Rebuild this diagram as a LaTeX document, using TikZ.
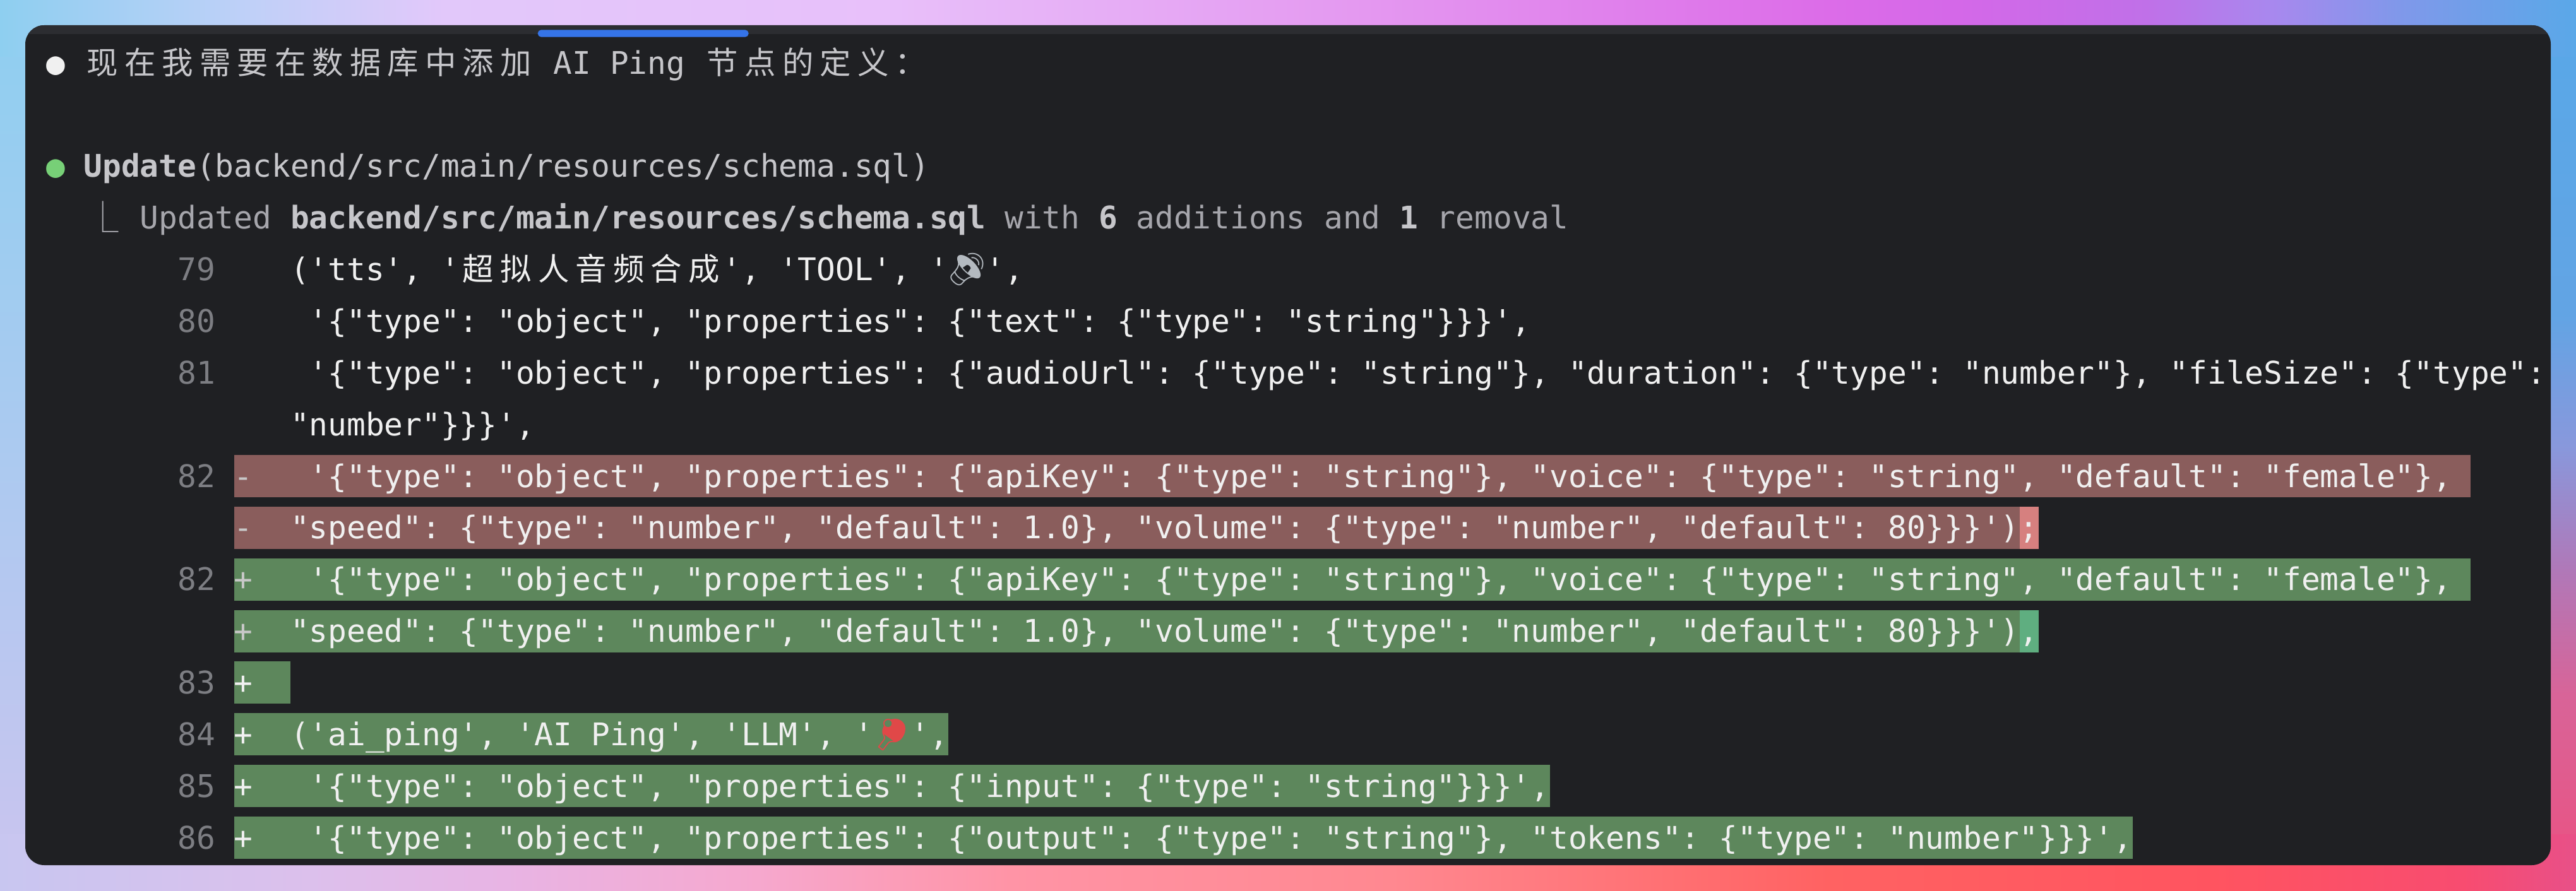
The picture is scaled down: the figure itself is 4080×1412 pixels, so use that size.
\documentclass[tikz,border=0pt]{standalone}
\usepackage{fontspec}
\setmonofont{DejaVu Sans Mono}
\newfontfamily\cjkf{Noto Sans CJK SC}
\newfontfamily\emof{Noto Emoji}
\definecolor{winbg}{HTML}{1F2023}
\definecolor{titlebg}{HTML}{2C2D31}
\definecolor{scrollblue}{HTML}{3574E8}
\definecolor{codew}{HTML}{F0F0F0}
\definecolor{hdrtext}{HTML}{C6C6CA}
\definecolor{dimtext}{HTML}{A6A6AC}
\definecolor{lngray}{HTML}{7D7E83}
\definecolor{dotgreen}{HTML}{77D077}
\definecolor{redrow}{HTML}{8A5D5C}
\definecolor{greenrow}{HTML}{5D875C}
\definecolor{redhi}{HTML}{D6807F}
\definecolor{greenhi}{HTML}{5FAE80}
\definecolor{markgray}{HTML}{C8C8C8}
\definecolor{emogray}{HTML}{B4BAC0}
\definecolor{emored}{HTML}{E04848}
% background colours
\definecolor{tA}{HTML}{8ECFF0}\definecolor{tB}{HTML}{C0D0F8}\definecolor{tC}{HTML}{E2C8FA}
\definecolor{tD}{HTML}{E8C0FA}\definecolor{tE}{HTML}{E498F0}\definecolor{tF}{HTML}{DC6CE8}
\definecolor{tG}{HTML}{D468E8}\definecolor{tH}{HTML}{C070E8}\definecolor{tI}{HTML}{A888EE}
\definecolor{tJ}{HTML}{8098EA}\definecolor{tK}{HTML}{5AA8E8}
\definecolor{bA}{HTML}{C8C6F0}\definecolor{bB}{HTML}{DCC0EC}\definecolor{bC}{HTML}{E8B4E4}
\definecolor{bD}{HTML}{F6A8CE}\definecolor{bE}{HTML}{FF94A6}\definecolor{bF}{HTML}{FF8890}
\definecolor{bG}{HTML}{FF6262}\definecolor{bH}{HTML}{FF5460}\definecolor{bI}{HTML}{F84C70}
\definecolor{bJ}{HTML}{E85088}
\definecolor{rA}{HTML}{58A8E8}\definecolor{rB}{HTML}{62A4E4}\definecolor{rC}{HTML}{8898DC}
\definecolor{rD}{HTML}{B078B8}\definecolor{rE}{HTML}{D86498}\definecolor{rF}{HTML}{EC5080}
\definecolor{lA}{HTML}{8ECFF0}\definecolor{lB}{HTML}{ABCAF0}\definecolor{lC}{HTML}{CBC4EF}
% stops mapped into the central 25bp--75bp band that \shade stretches over the path
\pgfdeclarehorizontalshading{topbg}{100bp}{color(0bp)=(tA); color(25bp)=(tA); color(29.9bp)=(tB);
  color(33.6bp)=(tC); color(42.15bp)=(tD); color(51.5bp)=(tE); color(60.5bp)=(tF); color(63bp)=(tG);
  color(66.65bp)=(tH); color(69.1bp)=(tI); color(71.55bp)=(tJ); color(75bp)=(tK); color(100bp)=(tK)}
\pgfdeclarehorizontalshading{botbg}{100bp}{color(0bp)=(bA); color(25bp)=(bA); color(31bp)=(bB);
  color(34.8bp)=(bC); color(39.7bp)=(bD); color(44.6bp)=(bE); color(52bp)=(bF); color(60.5bp)=(bG);
  color(67.9bp)=(bH); color(72.8bp)=(bI); color(75bp)=(bJ); color(100bp)=(bJ)}
\pgfdeclareverticalshading{rightbg}{100bp}{color(0bp)=(rF); color(25bp)=(rF); color(36bp)=(rE);
  color(43bp)=(rD); color(50bp)=(rC); color(57.3bp)=(rB); color(75bp)=(rA); color(100bp)=(rA)}
\pgfdeclareverticalshading{leftbg}{100bp}{color(0bp)=(lC); color(25bp)=(lC); color(50bp)=(lB);
  color(75bp)=(lA); color(100bp)=(lA)}
\newcommand\codefont{\ttfamily\fontsize{12.362pt}{14pt}\selectfont}
\newcommand\cjw[1]{\makebox[14.885pt][c]{\cjkf #1}}
\def\cjloop#1{\ifx\relax#1\else\cjw{#1}\expandafter\cjloop\fi}
\newcommand\CJ[1]{\cjloop#1\relax}
\newcommand\emo[2][emogray]{\makebox[14.885pt][c]{\emof\textcolor{#1}{#2}}}
\newcommand\X[1]{73+29.77*(#1)}
\newcommand\B[1]{772+81.86*((#1)-8)}
\newcommand\T[1]{721+81.86*((#1)-8)}
\tikzset{
  code/.style={anchor=base west, inner sep=0pt, outer sep=0pt, text=codew, font=\codefont},
  hdr/.style={code, text=hdrtext},
  dimt/.style={code, text=dimtext},
  lnum/.style={code, text=lngray},
  diffmark/.style={code, text=markgray},
  rowdel/.style={fill=redrow},
  rowadd/.style={fill=greenrow},
}
\begin{document}
\begin{tikzpicture}[x=0.25pt,y=-0.25pt]
\useasboundingbox (0,0) rectangle (4080,1412);
% background
\shade[shading=leftbg] (0,0) rectangle (120,1412);
\shade[shading=rightbg] (3960,0) rectangle (4080,1412);
\shade[shading=topbg] (0,0) rectangle (4080,90);
\shade[shading=botbg] (0,1322) rectangle (4080,1412);
% window
\fill[winbg, rounded corners=7.5pt] (40,40) rectangle (4040,1371);
\begin{scope}
  \clip[rounded corners=7.5pt] (40,40) rectangle (4040,1371);
  \fill[titlebg] (40,40) rectangle (4040,54);
\end{scope}
\fill[scrollblue, rounded corners=1.4pt] (851.7,47.3) rectangle (1185.7,58.7);
% diff rows
\fill[rowdel] ({\X{10}},{\T{8}}) rectangle ({\X{129}},{\T{8}+67});
\fill[rowdel] ({\X{10}},{\T{9}}) rectangle ({\X{106}},{\T{9}+67});
\fill[redhi] ({\X{105}},{\T{9}}) rectangle ({\X{106}},{\T{9}+67});
\fill[rowadd] ({\X{10}},{\T{10}}) rectangle ({\X{129}},{\T{10}+67});
\fill[rowadd] ({\X{10}},{\T{11}}) rectangle ({\X{106}},{\T{11}+67});
\fill[greenhi] ({\X{105}},{\T{11}}) rectangle ({\X{106}},{\T{11}+67});
\fill[rowadd] ({\X{10}},{\T{12}}) rectangle ({\X{13}},{\T{12}+67});
\fill[rowadd] ({\X{10}},{\T{13}}) rectangle ({\X{48}},{\T{13}+67});
\fill[rowadd] ({\X{10}},{\T{14}}) rectangle ({\X{80}},{\T{14}+67});
\fill[rowadd] ({\X{10}},{\T{15}}) rectangle ({\X{111}},{\T{15}+67});
% header lines
\node[hdr] (l1) at ({\X{0}},{\B{0}}) {\textcolor{codew}{●} \CJ{现在我需要在数据库中添加} AI Ping \CJ{节点的定义：}};
\node[hdr] (upd) at ({\X{0}},{\B{2}}) {\textcolor{dotgreen}{●} \textbf{Update}(backend/src/main/resources/schema.sql)};
\node[dimt] (corner) at ({\X{2.2}},{\B{3}}) {\cjkf ⎿};
\node[dimt] (upd2) at ({\X{5}},{\B{3}}) {Updated \textcolor{hdrtext}{\textbf{backend/src/main/resources/schema.sql}} with \textcolor{hdrtext}{\textbf{6}} additions and \textcolor{hdrtext}{\textbf{1}} removal};
% context lines
\node[lnum] (n79) at ({\X{7}},{\B{4}}) {79};
\node[code] (c79) at ({\X{13}},{\B{4}}) {('tts', '\CJ{超拟人音频合成}', 'TOOL', '\emo{🔊}',};
\node[lnum] (n80) at ({\X{7}},{\B{5}}) {80};
\node[code] (c80) at ({\X{14}},{\B{5}}) {'\{"type": "object", "properties": \{"text": \{"type": "string"\}\}\}',};
\node[lnum] (n81) at ({\X{7}},{\B{6}}) {81};
\node[code] (c81) at ({\X{14}},{\B{6}}) {'\{"type": "object", "properties": \{"audioUrl": \{"type": "string"\}, "duration": \{"type": "number"\}, "fileSize": \{"type":};
\node[code] (c81b) at ({\X{13}},{\B{7}}) {"number"\}\}\}',};
% removed
\node[lnum] (n82a) at ({\X{7}},{\B{8}}) {82};
\node[diffmark] (m82a) at ({\X{10}},{\B{8}}) {-};
\node[code] (c82a) at ({\X{14}},{\B{8}}) {'\{"type": "object", "properties": \{"apiKey": \{"type": "string"\}, "voice": \{"type": "string", "default": "female"\},};
\node[diffmark] (m82b) at ({\X{10}},{\B{9}}) {-};
\node[code] (c82b) at ({\X{13}},{\B{9}}) {"speed": \{"type": "number", "default": 1.0\}, "volume": \{"type": "number", "default": 80\}\}\}')};
\node[code] (semi) at ({\X{105}},{\B{9}}) {;};
% added
\node[lnum] (n82c) at ({\X{7}},{\B{10}}) {82};
\node[diffmark] (m82c) at ({\X{10}},{\B{10}}) {+};
\node[code] (c82c) at ({\X{14}},{\B{10}}) {'\{"type": "object", "properties": \{"apiKey": \{"type": "string"\}, "voice": \{"type": "string", "default": "female"\},};
\node[diffmark] (m82d) at ({\X{10}},{\B{11}}) {+};
\node[code] (c82d) at ({\X{13}},{\B{11}}) {"speed": \{"type": "number", "default": 1.0\}, "volume": \{"type": "number", "default": 80\}\}\}')};
\node[code] (comma) at ({\X{105}},{\B{11}}) {,};
\node[lnum] (n83) at ({\X{7}},{\B{12}}) {83};
\node[code] (m83) at ({\X{10}},{\B{12}}) {+};
\node[lnum] (n84) at ({\X{7}},{\B{13}}) {84};
\node[code] (m84) at ({\X{10}},{\B{13}}) {+};
\node[code] (c84) at ({\X{13}},{\B{13}}) {('ai\_ping', 'AI Ping', 'LLM', '\emo[emored]{🏓}',};
\node[lnum] (n85) at ({\X{7}},{\B{14}}) {85};
\node[code] (m85) at ({\X{10}},{\B{14}}) {+};
\node[code] (c85) at ({\X{14}},{\B{14}}) {'\{"type": "object", "properties": \{"input": \{"type": "string"\}\}\}',};
\node[lnum] (n86) at ({\X{7}},{\B{15}}) {86};
\node[code] (m86) at ({\X{10}},{\B{15}}) {+};
\node[code] (c86) at ({\X{14}},{\B{15}}) {'\{"type": "object", "properties": \{"output": \{"type": "string"\}, "tokens": \{"type": "number"\}\}\}',};
\end{tikzpicture}
\end{document}
